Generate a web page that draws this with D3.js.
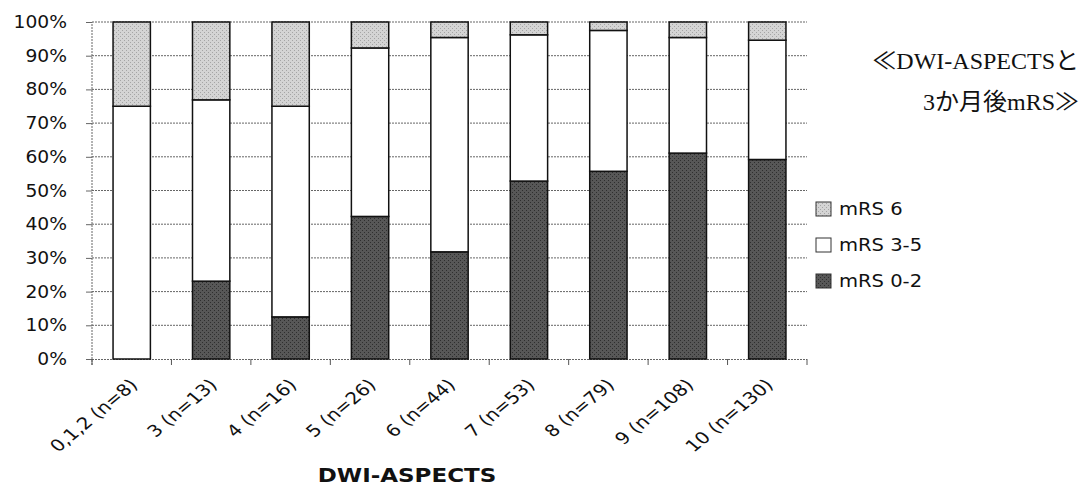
<!DOCTYPE html>
<html><head><meta charset="utf-8">
<script src="https://cdn.jsdelivr.net/npm/d3@7"></script>
<style>body{margin:0;background:#fff}svg{display:block}</style>
</head><body>
<svg id="c" width="1085" height="498"></svg>
<script>
const categories = ["0,1,2 (n=8)","3 (n=13)","4 (n=16)","5 (n=26)","6 (n=44)","7 (n=53)","8 (n=79)","9 (n=108)","10 (n=130)"];
const mrs02 = [0, 23.1, 12.5, 42.3, 31.8, 52.8, 55.7, 61.1, 59.2];
const mrs35 = [75, 53.8, 62.5, 50.0, 63.6, 43.4, 41.8, 34.3, 35.4];
const mrs6  = [25, 23.1, 25, 7.7, 4.6, 3.8, 2.5, 4.6, 5.4];
const seriesNames = ["mRS 0-2","mRS 3-5","mRS 6"];
const yTicks = [0,10,20,30,40,50,60,70,80,90,100];
const titleLines = ["≪DWI-ASPECTSと","3か月後mRS≫"];
const xTitle = "DWI-ASPECTS";

const svg = d3.select("#c");
const defs = svg.append("defs");
function stipple(id, base, dot){
  const p = defs.append("pattern").attr("id",id).attr("width",4).attr("height",4).attr("patternUnits","userSpaceOnUse");
  p.append("rect").attr("width",4).attr("height",4).attr("fill",base);
  p.append("rect").attr("x",0).attr("y",0).attr("width",1).attr("height",1).attr("fill",dot);
  p.append("rect").attr("x",2).attr("y",2).attr("width",1).attr("height",1).attr("fill",dot);
}
stipple("p6","#d4d4d4","#a5a5a5");
stipple("p02","#575757","#2e2e2e");
const patFill = {"mRS 0-2":"url(#p02)","mRS 3-5":"#fff","mRS 6":"url(#p6)"};

const L=92, R=807, T=22, B=359;
const x = d3.scaleBand().domain(categories).range([L,R]).paddingInner(0.53).paddingOuter(0.265);
const y = d3.scaleLinear().domain([0,100]).range([B,T]);

// gridlines
svg.append("g").selectAll("line").data(yTicks.filter(d=>d>0)).join("line")
  .attr("x1",L).attr("x2",R).attr("y1",d=>y(d)).attr("y2",d=>y(d))
  .attr("stroke","#666").attr("stroke-width",1).attr("stroke-dasharray","2,1");

// y axis
const yAxis = d3.axisLeft(y).tickValues(yTicks).tickFormat("").tickSize(6);
const gy = svg.append("g").attr("transform",`translate(${L},0)`).call(yAxis);
gy.select(".domain").attr("stroke","#666").attr("stroke-dasharray","2,1").attr("d",`M-0,${B+6}V${T}`);
gy.selectAll(".tick line").attr("stroke","#666");
svg.append("g").selectAll("text").data(yTicks).join("text")
  .attr("transform",d=>`translate(67,${y(d)+6}) scale(1.1,1)`)
  .attr("text-anchor","end").attr("font-family","DejaVu Sans").attr("font-size",17).attr("fill","#111")
  .text(d=>d+"%");

// x axis
const xAxis = d3.axisBottom(x).tickSize(0).tickFormat("");
const gx = svg.append("g").attr("transform",`translate(0,${B})`).call(xAxis);
gx.select(".domain").attr("stroke","#666").attr("stroke-dasharray","2,1").attr("d",`M${L},0.5H${R}`);
const bounds = d3.range(categories.length+1).map(i=>L+i*x.step());
gx.selectAll(".bnd").data(bounds).join("line").attr("class","bnd")
  .attr("x1",d=>d).attr("x2",d=>d).attr("y1",0).attr("y2",6).attr("stroke","#555");

// stacked bars
const rows = categories.map((c,i)=>({cat:c,"mRS 0-2":mrs02[i],"mRS 3-5":mrs35[i],"mRS 6":mrs6[i]}));
const stack = d3.stack().keys(seriesNames)(rows);
svg.append("g").selectAll("g").data(stack).join("g")
  .attr("fill",d=>patFill[d.key])
  .selectAll("rect").data(d=>d.filter(s=>s[1]-s[0]>0)).join("rect")
  .attr("x",d=>x(d.data.cat)).attr("width",x.bandwidth())
  .attr("y",d=>y(d[1])).attr("height",d=>y(d[0])-y(d[1]))
  .attr("stroke","#111").attr("stroke-width",1.5);

// x labels
svg.append("g").selectAll("text").data(categories).join("text")
  .attr("transform",d=>`translate(${x(d)+x.bandwidth()/2+7},${B+27}) scale(1.2,1) rotate(-45)`)
  .attr("text-anchor","end").attr("font-family","DejaVu Sans").attr("font-size",16.5).attr("fill","#111")
  .text(d=>d);

svg.append("text").attr("transform","translate(407,482) scale(1.15,1)").attr("text-anchor","middle")
  .attr("font-family","DejaVu Sans").attr("font-weight","bold").attr("font-size",20).attr("fill","#111").text(xTitle);

// legend
const legendOrder = ["mRS 6","mRS 3-5","mRS 0-2"];
const lg = svg.append("g").selectAll("g").data(legendOrder).join("g")
  .attr("transform",(d,i)=>`translate(816,${209+i*36})`);
lg.append("rect").attr("x",0).attr("y",-7).attr("width",15).attr("height",14)
  .attr("fill",d=>patFill[d]).attr("stroke","#333").attr("stroke-width",1);
lg.append("text").attr("transform","translate(23,6) scale(1.15,1)").attr("font-family","DejaVu Sans").attr("font-size",17).attr("fill","#111").text(d=>d);

// title
svg.append("g").selectAll("text").data(titleLines).join("text")
  .attr("x",1079).attr("y",(d,i)=>69+i*41).attr("text-anchor","end")
  .attr("font-family","Liberation Serif, 'Noto Sans CJK JP'").attr("font-size",24).attr("fill","#111").text(d=>d);
</script>
</body></html>
